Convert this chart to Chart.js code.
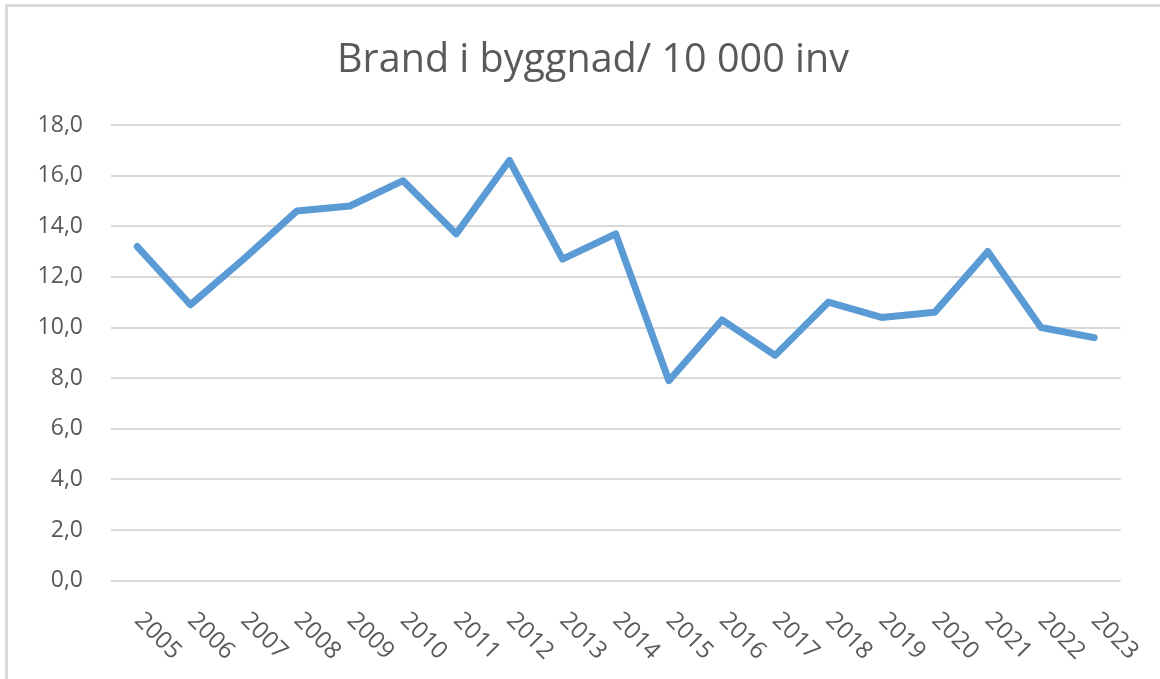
<!DOCTYPE html>
<html>
<head>
<meta charset="utf-8">
<title>Brand i byggnad</title>
<script src="https://cdn.jsdelivr.net/npm/chart.js@4"></script>
<style>
    html, body { margin: 0; padding: 0; background: #fff; overflow: hidden; }
    #frame {
        position: absolute; left: 5px; top: 4px;
        width: 1152px; height: 672px;
        border-top: 3px solid #d9d9d9; border-left: 3px solid #d9d9d9;
    }
    #frame canvas { display: block; }
</style>
</head>
<body>
<div id="frame"><canvas id="chart"></canvas></div>
<script>
// Data
const years = ['2005', '2006', '2007', '2008', '2009', '2010', '2011', '2012', '2013', '2014',
               '2015', '2016', '2017', '2018', '2019', '2020', '2021', '2022', '2023'];
const fires = [13.2, 10.9, 12.7, 14.6, 14.8, 15.8, 13.7, 16.6, 12.7, 13.7,
               7.9, 10.3, 8.9, 11.0, 10.4, 10.6, 13.0, 10.0, 9.6];
const yTicks = [0, 2, 4, 6, 8, 10, 12, 14, 16, 18];

const textColor = '#595959';
const fontFamily = '"Open Sans", "DejaVu Sans", sans-serif';

// Excel-style x labels, rotated 45 degrees clockwise
const xLabelPlugin = {
    id: 'xLabels',
    afterDraw(chart) {
        const ctx = chart.ctx;
        const xs = chart.scales.x;
        ctx.save();
        ctx.fillStyle = textColor;
        ctx.font = '24px ' + fontFamily;
        ctx.textAlign = 'left';
        ctx.textBaseline = 'middle';
        years.forEach((label, i) => {
            ctx.save();
            ctx.translate(xs.getPixelForTick(i) + 1, xs.top + 36);
            ctx.rotate(Math.PI / 4);
            ctx.fillText(label, 0, 0);
            ctx.restore();
        });
        ctx.restore();
    }
};

const ctx = document.getElementById('chart').getContext('2d');
new Chart(ctx, {
    type: 'line',
    data: {
        labels: years,
        datasets: [{
            label: 'Brand i byggnad/ 10 000 inv',
            data: fires,
            borderColor: '#5b9bd5',
            backgroundColor: '#5b9bd5',
            borderWidth: 7,
            borderCapStyle: 'round',
            borderJoinStyle: 'round',
            pointRadius: 0,
            tension: 0,
            fill: false
        }]
    },
    options: {
        responsive: true,
        maintainAspectRatio: false,
        animation: false,
        layout: {
            padding: { top: 0, right: 0, bottom: 0, left: 18 }
        },
        plugins: {
            legend: { display: false },
            tooltip: { enabled: false },
            title: {
                display: true,
                text: 'Brand i byggnad/ 10 000 inv',
                color: textColor,
                font: { family: fontFamily, size: 39.5, weight: 'normal' },
                padding: { top: 30.3, bottom: 40.3 }
            }
        },
        scales: {
            x: {
                offset: true,
                grid: { display: false },
                border: { display: false },
                ticks: { display: false },
                afterFit(scale) { scale.height = 98.3; }
            },
            y: {
                min: 0,
                max: 18,
                afterBuildTicks(scale) { scale.ticks = yTicks.map(v => ({ value: v })); },
                grid: { color: '#d9d9d9', lineWidth: 2, drawTicks: false },
                border: { display: false },
                ticks: {
                    color: textColor,
                    padding: 27.7,
                    font: { family: fontFamily, size: 23 },
                    callback: v => v.toFixed(1).replace('.', ',')
                },
                afterFit(scale) { scale.width = 84.7; }
            },
            // empty right axis, only reserves the right margin so the title stays centred
            yRight: {
                position: 'right',
                grid: { display: false },
                border: { display: false },
                ticks: { display: false },
                afterFit(scale) { scale.width = 39.3; }
            }
        }
    },
    plugins: [xLabelPlugin]
});
</script>
</body>
</html>
